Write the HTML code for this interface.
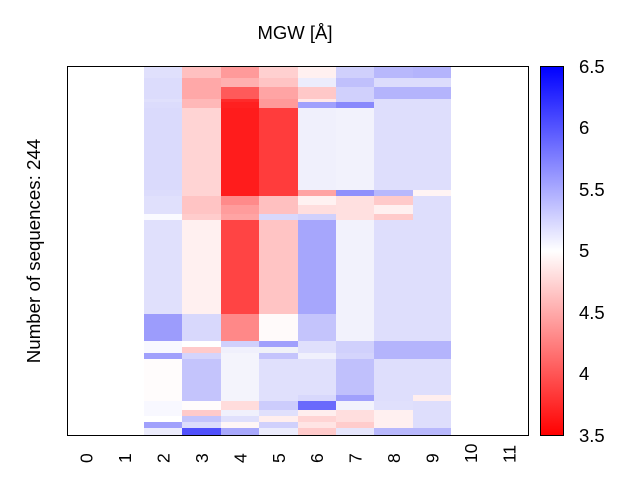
<!DOCTYPE html>
<html><head><meta charset="utf-8"><style>body{margin:0;background:#fff}svg{display:block}text{font-family:"Liberation Sans",sans-serif;fill:#000}</style></head><body>
<svg width="640" height="480" xmlns="http://www.w3.org/2000/svg">
<defs><linearGradient id="cb" x1="0" y1="0" x2="0" y2="1"><stop offset="0" stop-color="#0000ff"/><stop offset="0.5" stop-color="#ffffff"/><stop offset="1" stop-color="#ff0000"/></linearGradient></defs>
<g id="hm" shape-rendering="crispEdges"></g>
<rect x="67.5" y="66.5" width="461" height="369" fill="none" stroke="#000" stroke-width="1"/>
<rect x="540.5" y="66.5" width="23" height="369" fill="url(#cb)" stroke="#000" stroke-width="1"/>
<text x="295" y="39" font-size="18.5" text-anchor="middle">MGW [Å]</text>
<text transform="translate(40,251) rotate(-90)" font-size="18.7" text-anchor="middle">Number of sequences: 244</text>
<g font-size="18.5">
<text x="579" y="73">6.5</text><text x="579" y="134">6</text><text x="579" y="196">5.5</text><text x="579" y="257">5</text><text x="579" y="319">4.5</text><text x="579" y="380">4</text><text x="579" y="442">3.5</text>
</g>
<g id="xl" font-size="17.5"></g>
</svg>
<script>
var rows=[
[66,78,"#e0e0fc #ffc0c0 #ff9a9a #ffd0d0 #fff0f0 #d0d0fc #b8b8fc #b4b4fc"],
[78,87,"#dcdcfc #ffa8a8 #ffb0b0 #ffc4c4 #ececfc #c0c0fc #dcdcfc #dcdcfc"],
[87,99,"#dcdcfc #ffa8a8 #ff5a5a #ffa4a4 #ffc8c8 #d0d0fc #b4b4fc #b4b4fc"],
[99,102,"#e0e0fc #ffb8b8 #ff2a2a #ff9a9a #ffe8e8 #d0d0fc #dedefc #dedefc"],
[102,108,"#dcdcfc #ffb8b8 #ff2020 #ff9a9a #a0a0fc #8888fc #dedefc #dedefc"],
[108,190,"#dadafc #ffd4d4 #ff1c1c #ff3c3c #f0f0fc #f2f2fc #dedefc #dedefc"],
[190,196,"#dcdcfc #ffd4d4 #ff1c1c #ff3c3c #ffa4a4 #9090fc #b8b8fc #fff4f4"],
[196,205,"#e0e0fc #ffc4c4 #ff8a8a #ffc0c0 #fff2f2 #ffe0e0 #ffcaca #dedefc"],
[205,214,"#e0e0fc #ffc4c4 #ff9c9c #ffc0c0 #ffdede #ffe0e0 #fff0f0 #dedefc"],
[214,220,"#fafaff #ffcccc #ffa4a4 #d8d8fc #d0d0fc #ffe0e0 #ffcaca #dedefc"],
[220,314,"#e0e0fc #fff0f0 #ff4444 #ffc4c4 #a6a6fc #f2f2fc #dedefc #dedefc"],
[314,341,"#9c9cfc #d8d8fc #ff8888 #fffafa #c4c4fc #f2f2fc #dedefc #dedefc"],
[341,347,"#f8f8ff #ffffff #d0d0fc #a0a0fc #e0e0fc #d0d0fc #b4b4fc #b4b4fc"],
[347,353,"#f8f8ff #ffcaca #f0f0fc #f0f2f8 #e0e0fc #d0d0fc #b4b4fc #b4b4fc"],
[353,359,"#a0a0fc #d4d4fc #f4f4fc #c4c4fc #f0f0fc #d4d4fc #b4b4fc #b4b4fc"],
[359,395,"#fffcfc #c4c4fc #f4f4fc #e0e0fc #e0e0fc #c0c0fc #dedefc #dedefc"],
[395,401,"#fffcfc #c4c4fc #f4f4fc #e0e0fc #d8d8fc #a0a0fc #dedefc #ffeeee"],
[401,410,"#f8f8ff #fffcfc #ffdcdc #ccccfc #6a6afc #f2f2fc #e0e0fc #dedefc"],
[410,416,"#f8f8ff #ffcaca #f0f0fc #e0e0fc #ffeeee #ffdede #fff0f0 #dedefc"],
[416,422,"#ffffff #c4c4fc #e0e0fc #ffeeee #ffd4d4 #ffdede #fff0f0 #dedefc"],
[422,428,"#a0a0fc #dcdcfc #fff6f6 #d0d0fc #ffe4e4 #ffcccc #fff0f0 #dedefc"],
[428,435,"#ececfc #5050fc #a8a8fc #ececfc #ffcaca #e6e6fc #b8b8fc #b8b8fc"]];
var ns="http://www.w3.org/2000/svg",g=document.getElementById("hm"),w=461/12;
rows.forEach(function(r){r[2].split(" ").forEach(function(c,i){var e=document.createElementNS(ns,"rect");var x0=Math.round(67+(i+2)*w),x1=Math.round(67+(i+3)*w);e.setAttribute("x",x0);e.setAttribute("y",r[0]);e.setAttribute("width",x1-x0);e.setAttribute("height",r[1]-r[0]);e.setAttribute("fill",c);g.appendChild(e);});});
var xl=document.getElementById("xl");
for(var i=0;i<12;i++){var t=document.createElementNS(ns,"text");var cx=67+(i+0.5)*w+6.5;t.setAttribute("transform","translate("+cx+",463) rotate(-90)");t.textContent=i;xl.appendChild(t);}
</script>
</body></html>
